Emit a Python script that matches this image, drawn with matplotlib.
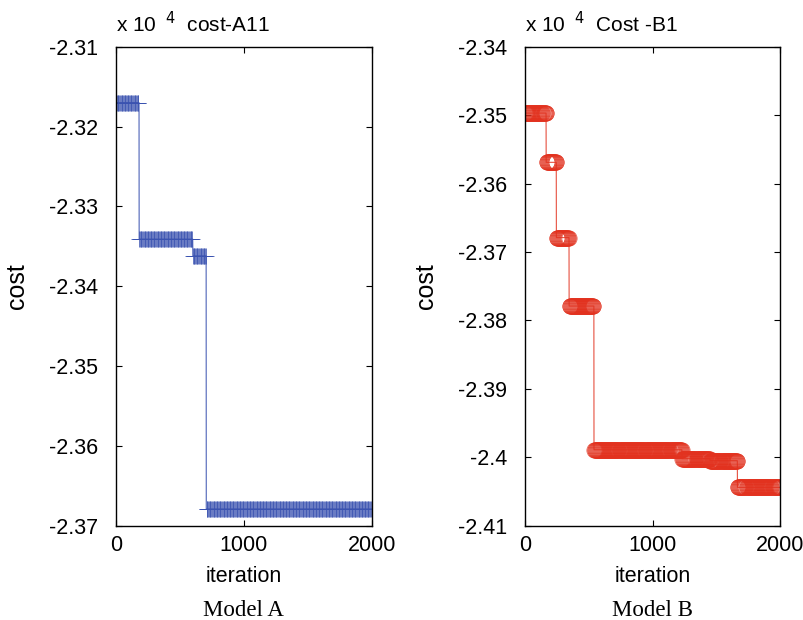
import numpy as np
import matplotlib.pyplot as plt
from matplotlib.ticker import FuncFormatter

plt.rcParams['font.family'] = ['Liberation Sans', 'DejaVu Sans']

# Model A: step levels (iteration where each level starts, cost value)
a_starts = [0, 180, 600, 705]
a_levels = [-23170, -23341, -23362, -23679]
# Model B
b_starts = [0, 165, 245, 345, 540, 1230, 1450, 1665]
b_levels = [-23497, -23569, -23679, -23779, -23989, -24002, -24005, -24044]
n_iter = 2000


def step_series(starts, levels, n):
    ends = starts[1:] + [n]
    return np.concatenate([np.full(e - s, v, dtype=float)
                           for s, e, v in zip(starts, ends, levels)])


ya = step_series(a_starts, a_levels, n_iter)
yb = step_series(b_starts, b_levels, n_iter)
x = np.arange(1, n_iter + 1)

fig = plt.figure(figsize=(8.04, 6.2), dpi=100)
axA = fig.add_axes([0.1443, 0.1521, 0.3180, 0.7726])
axB = fig.add_axes([0.6530, 0.1521, 0.3172, 0.7726])

axA.plot(x, ya, color='#3a52b0', lw=0.8, marker='+', ms=12, mew=0.6,
         markevery=6, alpha=0.9)
axB.plot(x, yb, color='#e2321f', lw=0.8, marker='o', ms=11, mfc='none',
         mew=0.5, markevery=4, alpha=0.85)

fmt = FuncFormatter(lambda v, p: '%g' % round(v / 1e4, 4))
for ax, ylim, title in [(axA, (-23700, -23100), 'cost-A11'),
                        (axB, (-24100, -23400), 'Cost -B1')]:
    ax.set_xlim(0, 2000)
    ax.set_ylim(*ylim)
    ax.set_yticks(np.arange(ylim[0], ylim[1] + 1, 100))
    ax.set_xticks([0, 1000, 2000])
    ax.yaxis.set_major_formatter(fmt)
    ax.tick_params(direction='in', top=True, right=True, labelsize=15.5,
                   length=4, width=0.8)
    ax.tick_params(axis='y', pad=13)
    ax.tick_params(axis='x', pad=7)
    for s in ax.spines.values():
        s.set_linewidth(1.0)
    ax.set_xlabel('iteration', fontsize=15.5, labelpad=7)
    ax.set_ylabel('cost', fontsize=18, labelpad=14)
    ax.text(0.0, 1.022, r'x 10$^{\ \ 4}$  ' + title, transform=ax.transAxes,
            fontsize=15, ha='left', va='bottom')

fig.text(0.303, 0.006, 'Model A', family='Liberation Serif', fontsize=16.5,
         ha='center')
fig.text(0.812, 0.006, 'Model B', family='Liberation Serif', fontsize=16.5,
         ha='center')

plt.savefig('out.png', dpi=100)
